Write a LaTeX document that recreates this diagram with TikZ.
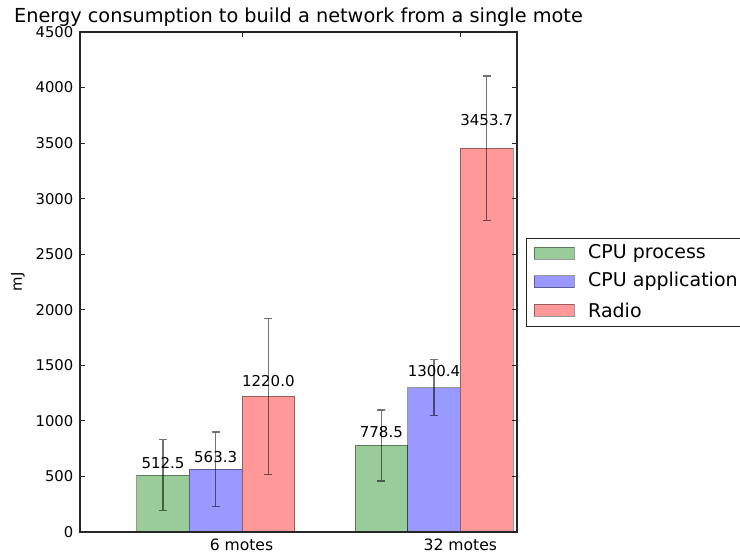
\documentclass[tikz,border=0pt]{standalone}
\usepackage{fontspec}
\setmainfont{DejaVu Sans}
\definecolor{cgreen}{HTML}{99CC99}
\definecolor{cblue}{HTML}{9999FF}
\definecolor{cred}{HTML}{FF9999}
\begin{document}
\begin{tikzpicture}[x=1pt,y=1pt,
  bar/.style={draw=black,draw opacity=0.4,line width=0.9pt},
  gbar/.style={bar,fill=cgreen},
  bbar/.style={bar,fill=cblue},
  rbar/.style={bar,fill=cred},
  errbar/.style={draw=black,draw opacity=0.55,line width=1.3pt},
  axisline/.style={draw=black!85,line width=1.1pt},
  tickmark/.style={draw=black!85,line width=0.8pt},
  ylab/.style={anchor=east,inner sep=0pt,font=\fontsize{14.8}{16}\selectfont},
  xlab/.style={anchor=north,inner sep=0pt,font=\fontsize{15.6}{17}\selectfont},
  vallab/.style={anchor=base,inner sep=0pt,font=\fontsize{15}{16}\selectfont},
  legtext/.style={anchor=west,inner sep=0pt,font=\fontsize{19}{21}\selectfont},
  legpatch/.style={minimum width=40pt,minimum height=12pt,inner sep=0pt}
]
\useasboundingbox (0,0) rectangle (740,557);
\fill[white] (0,0) rectangle (740,557);

% title
\node[anchor=base,inner sep=0pt,font=\fontsize{19.3}{21}\selectfont] (title) at (298.5,534) {Energy consumption to build a network from a single mote};

% y label
\node[rotate=90,inner sep=0pt,font=\fontsize{14.8}{16}\selectfont] (ylabel) at (18,275) {mJ};

% bars: 6 motes
\draw[gbar] (136.7,25) rectangle (189.3,81.94);
\draw[bbar] (189.3,25) rectangle (242.0,87.59);
\draw[rbar] (242.0,25) rectangle (294.7,160.56);
% bars: 32 motes
\draw[gbar] (355.0,25) rectangle (407.7,111.5);
\draw[bbar] (407.7,25) rectangle (460.3,169.49);
\draw[rbar] (460.3,25) rectangle (513.0,408.74);

% error bars (one path each, so the caps do not darken)
\foreach \x/\c/\e in {163.0/81.94/35.5, 215.65/87.59/37.3, 268.35/160.56/78.0,
                      381.35/111.5/35.5, 434.0/169.49/27.8, 486.65/408.74/72.3}{
  \draw[errbar] (\x-4,\c-\e) -- (\x+4,\c-\e)
                (\x,\c-\e) -- (\x,\c+\e)
                (\x-4,\c+\e) -- (\x+4,\c+\e);
}

% value labels
\node[vallab] (v1) at (163.0,88.1) {512.5};
\node[vallab] (v2) at (215.65,94.0) {563.3};
\node[vallab] (v3) at (268.35,170.6) {1220.0};
\node[vallab] (v4) at (381.35,119.1) {778.5};
\node[vallab] (v5) at (434.0,180.0) {1300.4};
\node[vallab] (v6) at (486.65,431.2) {3453.7};

% axes frame
\draw[axisline] (80,25) rectangle (517,525);

% y ticks and labels
\foreach \v in {0,500,...,4500}{
  \pgfmathsetmacro{\yy}{25+\v/9}
  \draw[tickmark] (80,\yy) -- (85,\yy);
  \draw[tickmark] (517,\yy) -- (512,\yy);
  \node[ylab] at (73.5,\yy) {\v};
}

% x ticks and labels
\draw[tickmark] (242.0,525) -- (242.0,520);
\draw[tickmark] (460.3,525) -- (460.3,520);
\node[xlab] (x1) at (241.5,18) {6 motes};
\node[xlab] (x2) at (460.3,18) {32 motes};

% legend
\draw[line width=1pt,black!85] (745,318) -- (526.5,318) -- (526.5,230) -- (745,230);
\node[legpatch,draw=black,draw opacity=0.4,fill=cgreen] (p1) at (554,304) {};
\node[legpatch,draw=black,draw opacity=0.4,fill=cblue] (p2) at (554,275.3) {};
\node[legpatch,draw=black,draw opacity=0.4,fill=cred] (p3) at (554,247) {};
\node[legtext] (t1) at (588,304) {CPU process};
\node[legtext] (t2) at (588,275.3) {CPU application};
\node[legtext] (t3) at (588,247) {Radio};
\end{tikzpicture}
\end{document}
